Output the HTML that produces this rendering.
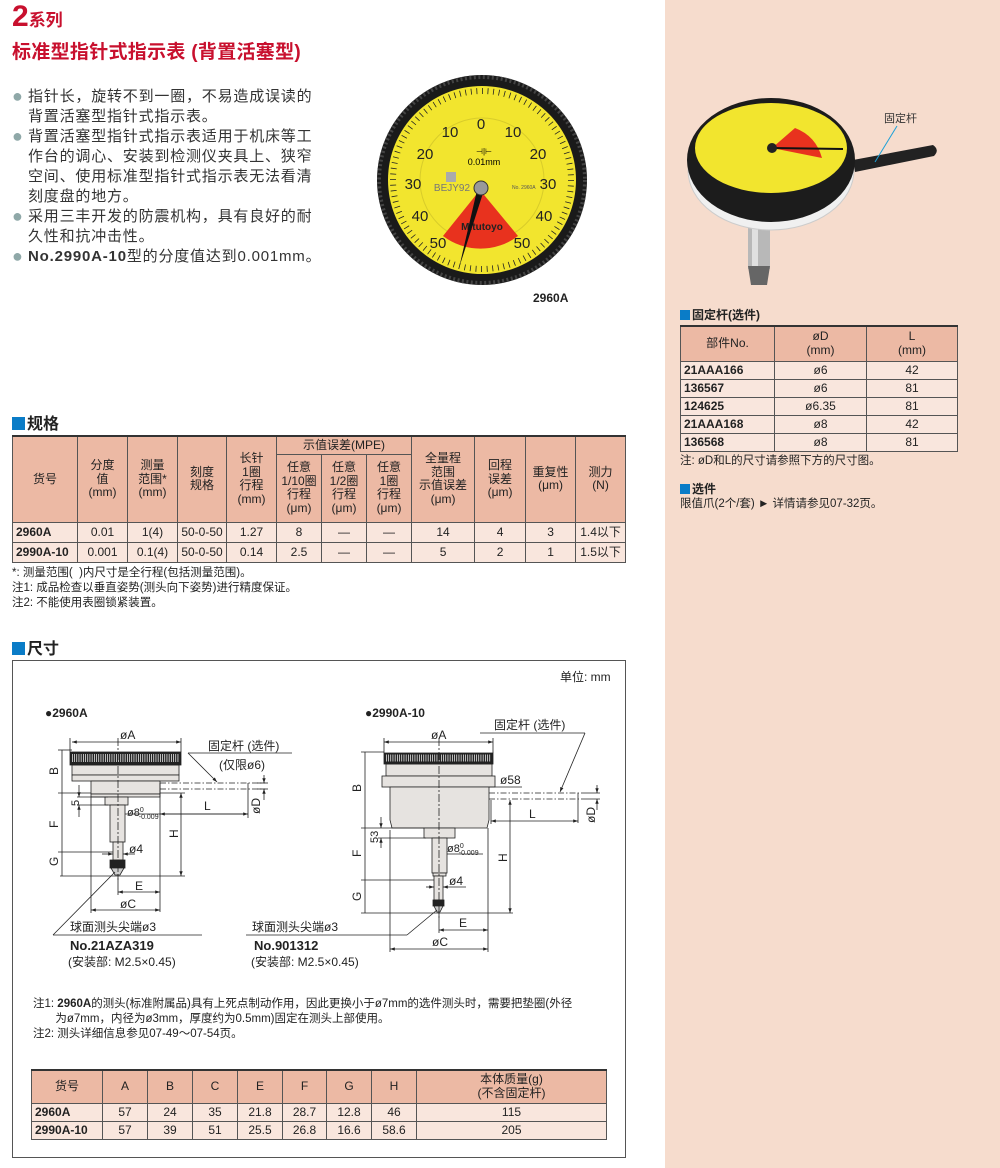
<!DOCTYPE html>
<html><head><meta charset="utf-8">
<style>
*{margin:0;padding:0;box-sizing:border-box}
body{width:1000px;height:1168px;position:relative;background:#fff;font-family:"Liberation Sans","Noto Sans CJK SC",sans-serif;color:#222;overflow:hidden}
.a{position:absolute;white-space:nowrap}
.rp{position:absolute;left:665px;top:0;width:335px;height:1168px;background:#f6dccd}
table{border-collapse:collapse;table-layout:fixed;position:absolute;font-size:12px;text-align:center}
td{border:1px solid #555;padding:0;line-height:13.5px;overflow:hidden}
.h td{background:#ecb9a4}
.r td{background:#f9e6dd;line-height:17px}
.r td:first-child{font-weight:bold;text-align:left;padding-left:3px}
.sq{display:inline-block;width:13px;height:13px;background:#0a7cc7;margin-right:2px;vertical-align:-1px}
.bl{color:#8fa8a8;font-size:18px;line-height:16px;display:inline-block;width:16px;vertical-align:-1px}
</style></head><body>
<div class="rp"></div>

<div class="a" style="left:12px;top:0px;color:#c8102e;font-weight:bold"><span style="font-size:30px">2</span><span style="font-size:17px">系列</span></div>
<div class="a" style="left:12px;top:37px;color:#c8102e;font-weight:bold;font-size:19px;letter-spacing:0.3px">标准型指针式指示表 (背置活塞型)</div>

<div class="a" style="left:12px;top:87px;font-size:15px;line-height:20px;letter-spacing:0.8px;color:#333">
<span class="bl">●</span>指针长，旋转不到一圈，不易造成误读的<br>
<span style="padding-left:16px"></span>背置活塞型指针式指示表。<br>
<span class="bl">●</span>背置活塞型指针式指示表适用于机床等工<br>
<span style="padding-left:16px"></span>作台的调心、安装到检测仪夹具上、狭窄<br>
<span style="padding-left:16px"></span>空间、使用标准型指针式指示表无法看清<br>
<span style="padding-left:16px"></span>刻度盘的地方。<br>
<span class="bl">●</span>采用三丰开发的防震机构，具有良好的耐<br>
<span style="padding-left:16px"></span>久性和抗冲击性。<br>
<span class="bl">●</span><b>No.2990A-10</b>型的分度值达到0.001mm。
</div>

<svg class="a" style="left:0;top:0" width="1000" height="1168" viewBox="0 0 1000 1168">
<defs>
<marker id="ar" viewBox="0 0 10 10" refX="10" refY="5" markerWidth="6" markerHeight="6" orient="auto-start-reverse"><path d="M0,1.5 L10,5 L0,8.5z" fill="#222"/></marker>
</defs>
<circle cx="482" cy="180" r="105" fill="#1a1a1a"/>
<circle cx="482" cy="180" r="103" fill="none" stroke="#444" stroke-width="4" stroke-dasharray="2 2.5"/>
<circle cx="482" cy="180" r="94" fill="#f2e52e"/>
<circle cx="482" cy="180" r="89" fill="none" stroke="#222" stroke-width="6" stroke-dasharray="0.8 4.79"/>
<circle cx="482" cy="180" r="62" fill="none" stroke="#d8cc2a" stroke-width="1"/>
<path d="M480,190 L443,236 A62 62 0 0 0 518,236 Z" fill="#e8321e"/>
<g font-size="15" fill="#222" text-anchor="middle">
<text x="481" y="129">0</text><text x="450" y="137">10</text><text x="513" y="137">10</text>
<text x="425" y="159">20</text><text x="538" y="159">20</text><text x="413" y="189">30</text><text x="548" y="189">30</text>
<text x="420" y="221">40</text><text x="544" y="221">40</text><text x="438" y="248">50</text><text x="522" y="248">50</text>
</g>
<text x="484" y="165" font-size="9" text-anchor="middle">0.01mm</text>
<text x="484" y="154" font-size="8" text-anchor="middle">⊣|⊢</text>
<text x="452" y="191" font-size="10" fill="#777" text-anchor="middle">BEJY92</text>
<rect x="446" y="172" width="10" height="10" fill="#aaa"/>
<text x="512" y="189" font-size="5" fill="#555">No. 2960A</text>
<text x="482" y="230" font-size="10" font-weight="bold" fill="#222" text-anchor="middle">Mitutoyo</text>
<path d="M478,186 L484,190 L459,268 Z" fill="#111"/>
<circle cx="481" cy="188" r="7" fill="#999" stroke="#333"/>
<text x="533" y="302" font-size="12" font-weight="bold" fill="#222">2960A</text>

<path d="M853,160 L933,145 Q940,150 934,156 L855,172Z" fill="#222"/>
<rect x="748" y="225" width="22" height="44" fill="#b8b8b8"/>
<rect x="752" y="225" width="6" height="44" fill="#e0e0e0"/>
<path d="M748,266 L770,266 L767,285 L751,285Z" fill="#666"/>
<ellipse cx="771" cy="170" rx="83" ry="60" fill="#f0f0f0" stroke="#ccc"/>
<ellipse cx="771" cy="160" rx="84" ry="62" fill="#1c1c1c"/>
<ellipse cx="771" cy="148" rx="76" ry="45" fill="#f2e52e"/>
<path d="M772,148 L795,128 Q816,136 822,158 Z" fill="#e8321e"/>
<line x1="772" y1="148" x2="843" y2="149" stroke="#111" stroke-width="2"/>
<circle cx="772" cy="148" r="5" fill="#222"/>
<text x="884" y="122" font-size="11" fill="#333">固定杆</text>
<line x1="897" y1="126" x2="875" y2="162" stroke="#1aa0d8" stroke-width="1"/>

<rect x="12.5" y="660.5" width="613" height="497" fill="none" stroke="#555"/>
<g font-size="12" fill="#222">
<text x="560" y="681">单位: mm</text>
<text x="45" y="717" font-weight="bold">●2960A</text>
<text x="365" y="717" font-weight="bold">●2990A-10</text>
</g>

<g stroke="#222" stroke-width="0.8" fill="none">
<rect x="72" y="765" width="107" height="10" fill="#e6e3e0"/>
<rect x="72" y="775" width="107" height="6" fill="#e6e3e0"/>
<rect x="91" y="781" width="69" height="13" fill="#e6e3e0"/>
<rect x="91" y="794" width="69" height="3" fill="#e6e3e0"/>
<rect x="105" y="797" width="23" height="8" fill="#e6e3e0"/>
<rect x="110" y="805" width="15" height="37" fill="#e6e3e0"/>
<rect x="113" y="842" width="10" height="18" fill="#e6e3e0"/>
<rect x="70" y="752" width="111" height="13" fill="#222"/>
<line x1="72" y1="758" x2="179" y2="758" stroke="#fff" stroke-width="8" stroke-dasharray="0.7 1.5"/>
<rect x="110" y="860" width="15" height="8" fill="#222"/>
<path d="M111,868 L124,868 L120,875 L115,875Z" fill="#ccc"/>
<line x1="118" y1="738" x2="118" y2="880" stroke-dasharray="8 2 2 2"/>
<line x1="72" y1="742" x2="181" y2="742" marker-start="url(#ar)" marker-end="url(#ar)"/>
<line x1="70" y1="738" x2="70" y2="752"/><line x1="181" y1="738" x2="181" y2="752"/>
<line x1="62" y1="750" x2="62" y2="876" />
<line x1="58" y1="750" x2="72" y2="750"/><line x1="58" y1="793" x2="91" y2="793"/>
<line x1="58" y1="852" x2="113" y2="852"/><line x1="60" y1="876" x2="185" y2="876"/>
<line x1="77" y1="797" x2="108" y2="797"/><line x1="77" y1="805" x2="108" y2="805"/>
<line x1="79" y1="785" x2="79" y2="797" marker-end="url(#ar)"/><line x1="79" y1="817" x2="79" y2="805" marker-end="url(#ar)"/>
<line x1="160" y1="793" x2="185" y2="793"/>
<line x1="181" y1="793" x2="181" y2="876" marker-start="url(#ar)" marker-end="url(#ar)"/>
<line x1="125" y1="814" x2="248" y2="814"/>
<line x1="160" y1="814" x2="248" y2="814" marker-start="url(#ar)" marker-end="url(#ar)"/>
<line x1="160" y1="783" x2="160" y2="912"/><line x1="248" y1="783" x2="248" y2="818"/>
<line x1="160" y1="783" x2="265" y2="783" stroke-dasharray="6 2 1.5 2"/>
<line x1="160" y1="789" x2="265" y2="789" stroke-dasharray="6 2 1.5 2"/>
<line x1="257" y1="783" x2="268" y2="783"/><line x1="257" y1="789" x2="268" y2="789"/>
<line x1="264" y1="775" x2="264" y2="783" marker-end="url(#ar)"/><line x1="264" y1="800" x2="264" y2="789" marker-end="url(#ar)"/>
<line x1="188" y1="753" x2="292" y2="753"/><line x1="188" y1="753" x2="217" y2="782" marker-end="url(#ar)"/>
<line x1="102" y1="854" x2="113" y2="854" marker-end="url(#ar)"/><line x1="135" y1="854" x2="123" y2="854" marker-end="url(#ar)"/>
<line x1="118" y1="876" x2="118" y2="895"/>
<line x1="118" y1="892" x2="160" y2="892" marker-start="url(#ar)" marker-end="url(#ar)"/>
<line x1="91" y1="797" x2="91" y2="913"/>
<line x1="91" y1="910" x2="160" y2="910" marker-start="url(#ar)" marker-end="url(#ar)"/>
<line x1="115" y1="872" x2="53" y2="935"/><line x1="53" y1="935" x2="202" y2="935"/>
</g>
<g font-size="12" fill="#222">
<text x="120" y="739">øA</text>
<text transform="translate(58,775) rotate(-90)">B</text>
<text transform="translate(58,828) rotate(-90)">F</text>
<text transform="translate(58,866) rotate(-90)">G</text>
<text transform="translate(79,806) rotate(-90)" font-size="11">5</text>
<text transform="translate(178,838) rotate(-90)">H</text>
<text x="127" y="816" font-size="11">ø8<tspan font-size="7" dy="-4">0</tspan><tspan font-size="7" dx="-5" dy="7">-0.009</tspan></text>
<text x="204" y="810">L</text>
<text transform="translate(260,814) rotate(-90)">øD</text>
<text x="208" y="750">固定杆 (选件)</text>
<text x="219" y="769">(仅限ø6)</text>
<text x="129" y="853">ø4</text>
<text x="135" y="890">E</text>
<text x="120" y="908">øC</text>
<text x="70" y="931">球面测头尖端ø3</text>
<text x="70" y="950" font-weight="bold" font-size="13">No.21AZA319</text>
<text x="68" y="966">(安装部: M2.5×0.45)</text>
</g>

<g stroke="#222" stroke-width="0.8" fill="none">
<rect x="386" y="764" width="106" height="12" fill="#e6e3e0"/>
<rect x="382" y="776" width="113" height="11" fill="#e6e3e0"/>
<path d="M390,787 L489,787 L489,820 L487,828 L392,828 L390,820Z" fill="#e6e3e0"/>
<rect x="424" y="828" width="31" height="10" fill="#e6e3e0"/>
<rect x="432" y="838" width="15" height="35" fill="#e6e3e0"/>
<rect x="433" y="873" width="13" height="3" fill="#e6e3e0"/>
<rect x="434" y="876" width="9" height="24" fill="#e6e3e0"/>
<rect x="384" y="753" width="109" height="11" fill="#222"/>
<line x1="386" y1="758" x2="491" y2="758" stroke="#fff" stroke-width="7" stroke-dasharray="0.7 1.5"/>
<rect x="433" y="900" width="11" height="6" fill="#222"/>
<path d="M434,906 L443,906 L440,912 L437,912Z" fill="#ccc"/>
<line x1="439" y1="738" x2="439" y2="918" stroke-dasharray="8 2 2 2"/>
<line x1="384" y1="742" x2="493" y2="742" marker-start="url(#ar)" marker-end="url(#ar)"/>
<line x1="384" y1="738" x2="384" y2="753"/><line x1="493" y1="738" x2="493" y2="753"/>
<line x1="365" y1="752" x2="365" y2="913"/>
<line x1="361" y1="752" x2="384" y2="752"/><line x1="361" y1="828" x2="424" y2="828"/>
<line x1="361" y1="880" x2="434" y2="880"/><line x1="361" y1="913" x2="513" y2="913"/>
<line x1="378" y1="838" x2="426" y2="838"/>
<line x1="381" y1="817" x2="381" y2="828" marker-end="url(#ar)"/><line x1="381" y1="848" x2="381" y2="838" marker-end="url(#ar)"/>
<line x1="489" y1="787" x2="522" y2="787"/>
<line x1="489" y1="793" x2="581" y2="793" stroke-dasharray="6 2 1.5 2"/>
<line x1="489" y1="799" x2="581" y2="799" stroke-dasharray="6 2 1.5 2"/>
<line x1="581" y1="793" x2="600" y2="793"/><line x1="581" y1="799" x2="600" y2="799"/>
<line x1="597" y1="785" x2="597" y2="793" marker-end="url(#ar)"/><line x1="597" y1="810" x2="597" y2="799" marker-end="url(#ar)"/>
<line x1="578" y1="793" x2="578" y2="823"/>
<line x1="491" y1="821" x2="578" y2="821" marker-start="url(#ar)" marker-end="url(#ar)"/>
<line x1="491" y1="800" x2="491" y2="824"/>
<line x1="510" y1="800" x2="510" y2="913" marker-start="url(#ar)" marker-end="url(#ar)"/>
<line x1="480" y1="733" x2="585" y2="733"/><line x1="585" y1="733" x2="560" y2="792" marker-end="url(#ar)"/>
<line x1="447" y1="854" x2="483" y2="854"/>
<line x1="426" y1="887" x2="434" y2="887" marker-end="url(#ar)"/><line x1="466" y1="887" x2="443" y2="887" marker-end="url(#ar)"/>
<line x1="488" y1="828" x2="488" y2="952"/><line x1="390" y1="830" x2="390" y2="952"/>
<line x1="439" y1="913" x2="439" y2="933"/>
<line x1="439" y1="930" x2="488" y2="930" marker-start="url(#ar)" marker-end="url(#ar)"/>
<line x1="390" y1="949" x2="488" y2="949" marker-start="url(#ar)" marker-end="url(#ar)"/>
<line x1="437" y1="910" x2="407" y2="935"/><line x1="246" y1="935" x2="407" y2="935"/>
</g>
<g font-size="12" fill="#222">
<text x="431" y="739">øA</text>
<text transform="translate(361,792) rotate(-90)">B</text>
<text transform="translate(361,857) rotate(-90)">F</text>
<text transform="translate(361,901) rotate(-90)">G</text>
<text transform="translate(378,843) rotate(-90)" font-size="11">53</text>
<text transform="translate(507,862) rotate(-90)">H</text>
<text x="500" y="784">ø58</text>
<text x="529" y="818">L</text>
<text transform="translate(595,823) rotate(-90)">øD</text>
<text x="494" y="729">固定杆 (选件)</text>
<text x="447" y="852" font-size="11">ø8<tspan font-size="7" dy="-4">0</tspan><tspan font-size="7" dx="-5" dy="7">-0.009</tspan></text>
<text x="449" y="885">ø4</text>
<text x="459" y="927">E</text>
<text x="432" y="946">øC</text>
<text x="252" y="931">球面测头尖端ø3</text>
<text x="254" y="950" font-weight="bold" font-size="13">No.901312</text>
<text x="251" y="966">(安装部: M2.5×0.45)</text>
</g>
</svg>

<div class="a" style="left:12px;top:410px;font-size:16px;font-weight:bold"><span class="sq"></span>规格</div>
<table style="left:12px;top:435px;width:613px;border-top:2px solid #333">
<colgroup><col style="width:65px"><col style="width:50px"><col style="width:50px"><col style="width:49px"><col style="width:50px"><col style="width:45px"><col style="width:45px"><col style="width:45px"><col style="width:63px"><col style="width:51px"><col style="width:50px"><col style="width:50px"></colgroup>
<tr class="h" style="height:18px"><td rowspan="2">货号</td><td rowspan="2">分度<br>值<br>(mm)</td><td rowspan="2">测量<br>范围*<br>(mm)</td><td rowspan="2">刻度<br>规格</td><td rowspan="2">长针<br>1圈<br>行程<br>(mm)</td><td colspan="3">示值误差(MPE)</td><td rowspan="2">全量程<br>范围<br>示值误差<br>(μm)</td><td rowspan="2">回程<br>误差<br>(μm)</td><td rowspan="2">重复性<br>(μm)</td><td rowspan="2">测力<br>(N)</td></tr>
<tr class="h" style="height:68px"><td>任意<br>1/10圈<br>行程<br>(μm)</td><td>任意<br>1/2圈<br>行程<br>(μm)</td><td>任意<br>1圈<br>行程<br>(μm)</td></tr>
<tr class="r" style="height:20px"><td>2960A</td><td>0.01</td><td>1(4)</td><td>50-0-50</td><td>1.27</td><td>8</td><td>—</td><td>—</td><td>14</td><td>4</td><td>3</td><td>1.4以下</td></tr>
<tr class="r" style="height:20px"><td>2990A-10</td><td>0.001</td><td>0.1(4)</td><td>50-0-50</td><td>0.14</td><td>2.5</td><td>—</td><td>—</td><td>5</td><td>2</td><td>1</td><td>1.5以下</td></tr>
</table>
<div class="a" style="left:12px;top:566px;font-size:11.5px;line-height:15px">*: 测量范围(&nbsp;&nbsp;)内尺寸是全行程(包括测量范围)。<br>注1: 成品检查以垂直姿势(测头向下姿势)进行精度保证。<br>注2: 不能使用表圈锁紧装置。</div>

<div class="a" style="left:12px;top:635px;font-size:16px;font-weight:bold"><span class="sq"></span>尺寸</div>

<div class="a" style="left:33px;top:997px;font-size:11.5px;line-height:15px">注1: <b>2960A</b>的测头(标准附属品)具有上死点制动作用，因此更换小于ø7mm的选件测头时，需要把垫圈(外径<br>&nbsp;&nbsp;&nbsp;&nbsp;&nbsp;&nbsp;&nbsp;为ø7mm，内径为ø3mm，厚度约为0.5mm)固定在测头上部使用。<br>注2: 测头详细信息参见07-49～07-54页。</div>

<table style="left:31px;top:1069px;width:575px;border-top:2px solid #333">
<colgroup><col style="width:71px"><col style="width:45px"><col style="width:45px"><col style="width:45px"><col style="width:45px"><col style="width:44px"><col style="width:45px"><col style="width:45px"><col style="width:190px"></colgroup>
<tr class="h" style="height:33px"><td>货号</td><td>A</td><td>B</td><td>C</td><td>E</td><td>F</td><td>G</td><td>H</td><td>本体质量(g)<br>(不含固定杆)</td></tr>
<tr class="r" style="height:18px"><td>2960A</td><td>57</td><td>24</td><td>35</td><td>21.8</td><td>28.7</td><td>12.8</td><td>46</td><td>115</td></tr>
<tr class="r" style="height:17px"><td>2990A-10</td><td>57</td><td>39</td><td>51</td><td>25.5</td><td>26.8</td><td>16.6</td><td>58.6</td><td>205</td></tr>
</table>

<div class="a" style="left:680px;top:306px;font-size:12px;font-weight:bold"><span class="sq" style="width:10px;height:10px"></span>固定杆(选件)</div>
<table style="left:680px;top:325px;width:277px;border-top:2px solid #333">
<colgroup><col style="width:94px"><col style="width:92px"><col style="width:91px"></colgroup>
<tr class="h" style="height:35px"><td>部件No.</td><td>øD<br>(mm)</td><td>L<br>(mm)</td></tr>
<tr class="r"><td>21AAA166</td><td>ø6</td><td>42</td></tr>
<tr class="r"><td>136567</td><td>ø6</td><td>81</td></tr>
<tr class="r"><td>124625</td><td>ø6.35</td><td>81</td></tr>
<tr class="r"><td>21AAA168</td><td>ø8</td><td>42</td></tr>
<tr class="r"><td>136568</td><td>ø8</td><td>81</td></tr>
</table>
<div class="a" style="left:680px;top:452px;font-size:11.5px">注: øD和L的尺寸请参照下方的尺寸图。</div>
<div class="a" style="left:680px;top:480px;font-size:12px;font-weight:bold"><span class="sq" style="width:10px;height:10px"></span>选件</div>
<div class="a" style="left:680px;top:495px;font-size:11.5px">限值爪(2个/套) ► 详情请参见07-32页。</div>
</body></html>
